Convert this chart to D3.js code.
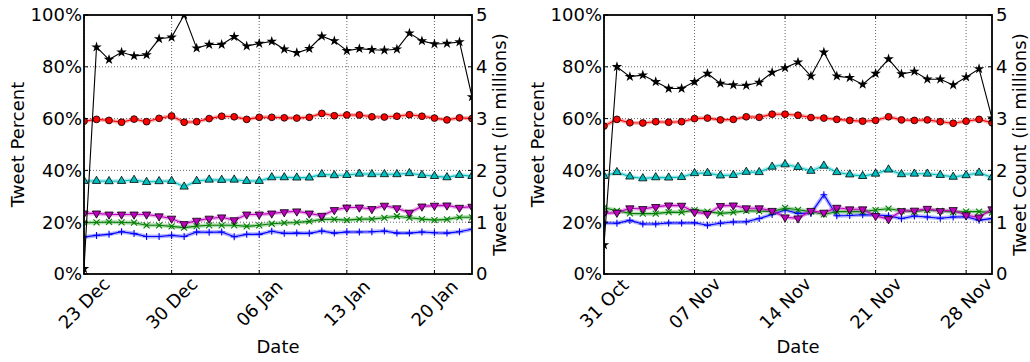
<!DOCTYPE html>
<html>
<head>
<meta charset="utf-8">
<script src="https://cdn.jsdelivr.net/npm/d3@7"></script>
<style>
  html, body { margin: 0; padding: 0; background: #fff; }
  svg { display: block; font-family: "DejaVu Sans", sans-serif; }
</style>
</head>
<body>
<svg id="chart" width="1030" height="362"></svg>
<script>
// ---- Left panel: 23 Dec – 23 Jan ----
const leftStart = "2012-12-23";
const leftTicks = ["2012-12-23", "2012-12-30", "2013-01-06", "2013-01-13", "2013-01-20"];
// daily tweet count, millions (right axis)
const leftCount = [0.10, 4.38, 4.14, 4.28, 4.21, 4.23, 4.54, 4.57, 5.00, 4.36, 4.43, 4.43, 4.58, 4.40, 4.45, 4.49,
                   4.34, 4.27, 4.35, 4.59, 4.50, 4.31, 4.35, 4.33, 4.32, 4.34, 4.65, 4.50, 4.44, 4.45, 4.48, 3.42];
// tweet percent series
const leftRed = [59.0, 59.7, 59.3, 58.6, 59.8, 58.8, 60.1, 61.0, 58.6, 58.8, 60.0, 60.9, 60.7, 59.7, 60.5, 60.5,
                 60.3, 60.2, 60.5, 62.0, 61.1, 61.4, 61.4, 60.7, 60.6, 60.9, 61.5, 60.9, 60.2, 59.5, 60.3, 60.0];
const leftCyan = [35.9, 35.9, 35.8, 35.9, 36.3, 35.5, 35.8, 35.9, 33.7, 35.9, 36.4, 36.3, 36.4, 35.9, 35.9, 37.3,
                  37.3, 37.2, 37.2, 38.5, 38.1, 38.2, 38.7, 38.5, 38.5, 38.5, 38.9, 38.2, 37.8, 37.3, 38.2, 37.8];
const leftMagenta = [23.4, 23.4, 23.0, 23.0, 23.0, 23.0, 22.3, 21.4, 19.3, 20.6, 21.4, 21.9, 20.8, 23.0, 23.0, 23.4,
                     23.9, 24.2, 23.4, 22.5, 24.7, 25.7, 25.7, 25.1, 26.4, 25.4, 23.7, 26.1, 26.4, 26.5, 25.6, 26.0];
const leftGreen = [19.8, 19.9, 20.1, 19.9, 19.8, 18.8, 18.8, 18.4, 17.9, 18.5, 18.8, 18.8, 18.8, 18.4, 18.8, 19.4,
                   19.7, 19.9, 20.3, 21.1, 21.1, 20.8, 21.2, 21.2, 21.7, 22.3, 21.7, 21.2, 20.8, 21.1, 21.9, 21.9];
const leftBlue = [14.3, 14.9, 15.3, 16.3, 15.6, 14.5, 14.5, 14.9, 14.5, 16.2, 16.1, 16.2, 14.4, 15.3, 15.3, 16.5,
                  15.7, 15.8, 15.7, 16.6, 15.8, 16.2, 16.2, 16.3, 16.6, 15.8, 15.8, 16.2, 15.9, 15.8, 16.3, 17.3];

// ---- Right panel: 31 Oct – 30 Nov ----
const rightStart = "2012-10-31";
const rightTicks = ["2012-10-31", "2012-11-07", "2012-11-14", "2012-11-21", "2012-11-28"];
const rightCount = [0.56, 4.00, 3.81, 3.84, 3.71, 3.58, 3.58, 3.71, 3.87, 3.68, 3.65, 3.64, 3.70, 3.89, 3.98, 4.09,
                    3.82, 4.28, 3.82, 3.79, 3.66, 3.87, 4.15, 3.86, 3.91, 3.76, 3.76, 3.65, 3.80, 3.96, 3.01];
const rightRed = [57.1, 59.7, 58.4, 58.3, 58.8, 58.6, 58.8, 60.0, 60.2, 59.5, 59.7, 60.7, 60.5, 61.7, 61.7, 61.3,
                  60.4, 60.2, 59.7, 59.3, 59.0, 59.3, 60.7, 59.5, 59.3, 59.5, 58.8, 58.2, 59.0, 59.7, 58.4];
const rightCyan = [37.8, 39.3, 37.6, 36.9, 37.3, 37.2, 37.4, 38.9, 39.0, 38.0, 38.2, 39.4, 39.3, 41.4, 42.3, 41.3,
                   39.8, 41.8, 39.3, 38.4, 37.8, 38.7, 40.3, 38.5, 38.7, 38.7, 38.2, 37.5, 38.1, 39.1, 37.3];
const rightMagenta = [23.4, 23.7, 25.4, 25.1, 25.9, 26.5, 26.4, 23.9, 23.2, 26.3, 26.5, 25.4, 25.4, 24.4, 21.9, 21.5,
                      24.4, 23.7, 25.6, 25.0, 25.0, 22.4, 21.2, 24.3, 24.5, 25.2, 24.3, 24.7, 22.7, 21.9, 25.0];
const rightGreen = [25.6, 24.4, 23.4, 23.3, 23.3, 23.9, 23.8, 24.7, 24.1, 23.4, 23.8, 24.4, 24.3, 24.1, 25.5, 24.8,
                    24.1, 23.0, 24.1, 24.1, 24.1, 24.7, 25.2, 24.4, 24.1, 24.7, 24.4, 23.9, 24.1, 24.1, 23.7];
const rightBlue = [19.7, 19.6, 20.7, 19.3, 19.3, 19.7, 19.7, 19.8, 18.8, 19.6, 20.1, 20.2, 21.4, 23.0, 24.7, 23.4,
                   23.4, 30.6, 22.5, 22.6, 22.9, 22.8, 22.5, 21.4, 22.4, 22.0, 21.5, 22.0, 22.1, 20.8, 21.4];

// axis tick values
const percentTicks = [0, 20, 40, 60, 80, 100];
const countTicks = [0, 1, 2, 3, 4, 5];

const svg = d3.select("#chart");
const parse = d3.utcParse("%Y-%m-%d");
const fmtDay = d3.utcFormat("%d %b");

function drawPanel(left, start, ticks, count, red, cyan, magenta, green, blue) {
  const top = 15, bottom = 274, width = 388;
  const t0 = parse(start);
  const n = count.length;
  const dates = d3.range(n).map(i => d3.utcDay.offset(t0, i));
  const x = d3.scaleUtc().domain([dates[0], dates[n - 1]]).range([left, left + width]);
  const yP = d3.scaleLinear().domain([0, 100]).range([bottom, top]);
  const yC = d3.scaleLinear().domain([0, 5]).range([bottom, top]);
  const tickDates = ticks.map(parse);

  const g = svg.append("g");
  const clipId = "clip" + left;
  svg.append("clipPath").attr("id", clipId)
    .append("rect").attr("x", left).attr("y", top).attr("width", width).attr("height", bottom - top);

  // grid
  const grid = g.append("g").attr("stroke", "#333").attr("stroke-width", 1)
    .attr("stroke-dasharray", "1,2").attr("opacity", 0.75);
  grid.selectAll("line.v").data(tickDates).join("line")
    .attr("x1", d => x(d)).attr("x2", d => x(d)).attr("y1", top).attr("y2", bottom);
  grid.selectAll("line.h").data(percentTicks.slice(1, -1)).join("line")
    .attr("x1", left).attr("x2", left + width).attr("y1", d => yP(d)).attr("y2", d => yP(d));

  const plot = g.append("g").attr("clip-path", `url(#${clipId})`);

  function series(vals, yScale, color, marker, band) {
    const line = d3.line().x((d, i) => x(dates[i])).y(d => yScale(d));
    if (band) {
      plot.append("path").attr("d", line(vals)).attr("fill", "none")
        .attr("stroke", color).attr("stroke-width", 4).attr("opacity", 0.3)
        .attr("stroke-linejoin", "round");
    }
    plot.append("path").attr("d", line(vals)).attr("fill", "none")
      .attr("stroke", color).attr("stroke-width", 1.1);
    const mg = plot.append("g");
    vals.forEach((v, i) => {
      const cx = x(dates[i]), cy = yScale(v);
      const m = mg.append("g").attr("transform", `translate(${cx},${cy})`);
      if (marker === "star") {
        m.append("path").attr("d", d3.symbol(d3.symbolStar, 34)()).attr("fill", "#000");
      } else if (marker === "circle") {
        m.append("circle").attr("r", 3.4).attr("fill", color).attr("stroke", "#000").attr("stroke-width", 0.8);
      } else if (marker === "up" || marker === "down") {
        m.append("path").attr("d", d3.symbol(d3.symbolTriangle, 30)())
          .attr("transform", marker === "down" ? "rotate(180)" : null)
          .attr("fill", color).attr("stroke", "#000").attr("stroke-width", 0.8);
      } else if (marker === "x") {
        m.append("path").attr("d", "M-3,-3L3,3M-3,3L3,-3").attr("stroke", color).attr("stroke-width", 1.1);
      } else if (marker === "plus") {
        m.append("path").attr("d", "M-3.5,0L3.5,0M0,-3.5L0,3.5").attr("stroke", color).attr("stroke-width", 1.1);
      }
    });
  }

  series(blue, yP, "#0000ff", "plus", true);
  series(green, yP, "#008000", "x", true);
  series(magenta, yP, "#bf00bf", "down", true);
  series(cyan, yP, "#00bfbf", "up", true);
  series(red, yP, "#ff0000", "circle", true);
  series(count, yC, "#000000", "star", false);

  // frame
  g.append("rect").attr("x", left).attr("y", top).attr("width", width).attr("height", bottom - top)
    .attr("fill", "none").attr("stroke", "#000").attr("stroke-width", 1.8);

  // inward ticks
  const tk = g.append("g").attr("stroke", "#000").attr("stroke-width", 1);
  tickDates.forEach(d => {
    tk.append("line").attr("x1", x(d)).attr("x2", x(d)).attr("y1", bottom).attr("y2", bottom - 4);
    tk.append("line").attr("x1", x(d)).attr("x2", x(d)).attr("y1", top).attr("y2", top + 4);
  });
  percentTicks.forEach(v => {
    tk.append("line").attr("x1", left).attr("x2", left + 4).attr("y1", yP(v)).attr("y2", yP(v));
  });
  countTicks.forEach(v => {
    tk.append("line").attr("x1", left + width).attr("x2", left + width - 4).attr("y1", yC(v)).attr("y2", yC(v));
  });

  const fs = 18;
  // left tick labels
  g.append("g").selectAll("text").data(percentTicks).join("text")
    .attr("x", left - 2).attr("y", d => yP(d)).attr("dy", "0.36em")
    .attr("text-anchor", "end").attr("font-size", fs).text(d => d + "%");
  // right tick labels
  g.append("g").selectAll("text").data(countTicks).join("text")
    .attr("x", left + width + 4).attr("y", d => yC(d)).attr("dy", "0.36em")
    .attr("text-anchor", "start").attr("font-size", fs).text(d => d);
  // date tick labels, rotated
  g.append("g").selectAll("text").data(tickDates).join("text")
    .attr("transform", d => `translate(${x(d)},303) rotate(-45)`)
    .attr("text-anchor", "middle").attr("dy", "0.36em").attr("font-size", fs).text(d => fmtDay(d));

  // axis titles
  g.append("text").attr("x", left + width / 2).attr("y", 353).attr("text-anchor", "middle")
    .attr("font-size", fs).text("Date");
  g.append("text").attr("transform", `translate(${left - 60},${(top + bottom) / 2}) rotate(-90)`)
    .attr("text-anchor", "middle").attr("font-size", fs).text("Tweet Percent");
  g.append("text").attr("transform", `translate(${left + width + 34},${(top + bottom) / 2}) rotate(-90)`)
    .attr("text-anchor", "middle").attr("font-size", fs).text("Tweet Count (in millions)");
}

drawPanel(84, leftStart, leftTicks, leftCount, leftRed, leftCyan, leftMagenta, leftGreen, leftBlue);
drawPanel(604, rightStart, rightTicks, rightCount, rightRed, rightCyan, rightMagenta, rightGreen, rightBlue);
</script>
</body>
</html>
